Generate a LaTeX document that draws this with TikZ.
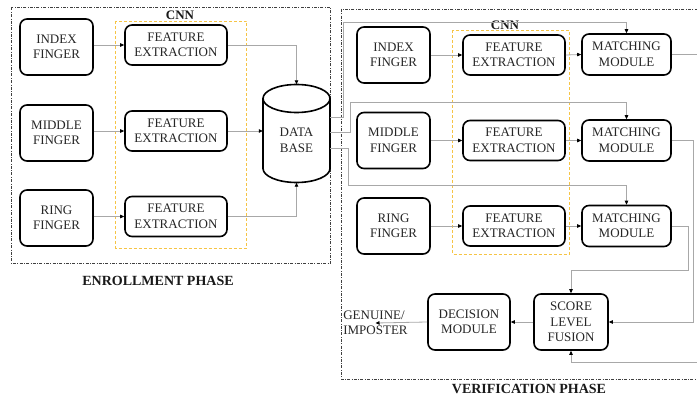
\documentclass[tikz,border=0pt]{standalone}
\usepackage{fontspec}
\setmainfont{Liberation Serif}
\usetikzlibrary{arrows.meta,calc}
\definecolor{cnnyellow}{HTML}{F6C445}
\definecolor{lineg}{HTML}{A8A8A8}
\begin{document}
\begin{tikzpicture}[x=1pt,y=-1pt,
  box/.style={draw=black, line width=1.6pt, rounded corners=7pt, fill=white, align=center, inner sep=0pt, text=black!85, font=\fontsize{13}{15.5}\selectfont},
  finger/.style={box, minimum width=73pt, minimum height=56pt},
  fe/.style={box, minimum width=102pt, minimum height=40pt},
  mm/.style={box, minimum width=89pt, minimum height=41pt},
  big/.style={box, minimum width=#1, minimum height=56pt},
  conn/.style={draw=lineg, line width=0.8pt, -{Triangle[length=4pt,width=3.5pt,color=black]}},
  phase/.style={draw=black!75, line width=0.6pt, dash pattern=on 3pt off 1.5pt on 0.6pt off 1.5pt},
  cnnbox/.style={draw=cnnyellow, line width=0.9pt, dash pattern=on 3pt off 2pt},
  title/.style={font=\bfseries\fontsize{14}{16}\selectfont, text=black!90},
  cnnlabel/.style={font=\bfseries\fontsize{13}{15}\selectfont, text=black!90},
  cyl/.style={draw=black, line width=1.6pt, fill=white},
]
\clip (0,0) rectangle (697,398);
\fill[white] (0,0) rectangle (697,398);

% phase frames and CNN frames
\draw[phase] (11.5,7.5) rectangle (330.5,263.5);
\draw[phase] (341.5,9) rectangle (710,379.5);
\draw[cnnbox] (115.5,21) rectangle (246.5,248);
\draw[cnnbox] (452,30.5) rectangle (569.5,254);

% labels
\node[title] (enrt) at (158,281) {ENROLLMENT PHASE};
\node[title] (vert) at (529,389) {VERIFICATION PHASE};
\node[cnnlabel] (cnn1) at (180,15) {CNN};
\node[cnnlabel] (cnn2) at (505,25) {CNN};

% enrollment
\node[finger] (ei) at (56.5,47) {INDEX\\FINGER};
\node[finger] (em) at (56.5,133) {MIDDLE\\FINGER};
\node[finger] (er) at (56.5,218) {RING\\FINGER};
\node[fe] (ef1) at (176,45) {FEATURE\\EXTRACTION};
\node[fe] (ef2) at (176,131) {FEATURE\\EXTRACTION};
\node[fe] (ef3) at (176,216.5) {FEATURE\\EXTRACTION};

% database cylinder
\draw[cyl] (263,98.5) -- (263,168.5) arc[start angle=180,end angle=0,x radius=33.5,y radius=14] -- (330,98.5);
\draw[cyl] (296.5,98.5) ellipse[x radius=33.5,y radius=14];
\node[align=center, inner sep=0pt, minimum width=67pt, minimum height=84pt, text=black!85, font=\fontsize{13}{15.5}\selectfont] (db) at (296.5,140.5) {DATA\\BASE};
\coordinate (dbtop) at ($(db.north)+(0,-14)$);

% verification
\node[finger] (vi) at (393.5,55) {INDEX\\FINGER};
\node[finger] (vm) at (393.5,140.5) {MIDDLE\\FINGER};
\node[finger] (vr) at (393.5,226) {RING\\FINGER};
\node[fe] (vf1) at (514,55) {FEATURE\\EXTRACTION};
\node[fe] (vf2) at (514,140.5) {FEATURE\\EXTRACTION};
\node[fe] (vf3) at (514,226) {FEATURE\\EXTRACTION};
\node[mm] (mm1) at (626.5,54.5) {MATCHING\\MODULE};
\node[mm] (mm2) at (626.5,140.5) {MATCHING\\MODULE};
\node[mm] (mm3) at (626.5,226) {MATCHING\\MODULE};
\node[big=74pt] (fus) at (571,322) {SCORE\\LEVEL\\FUSION};
\node[big=82pt] (dec) at (469,322) {DECISION\\MODULE};
\node[align=left, inner sep=0pt, text=black!85, font=\fontsize{13}{15}\selectfont] (out) at (375.5,323) {GENUINE/\\IMPOSTER};

% enrollment connectors
\draw[conn] (ei.east |- ef1) -- (ef1.west);
\draw[conn] (em.east |- ef2) -- (ef2.west);
\draw[conn] (er.east |- ef3) -- (ef3.west);
\draw[conn] (ef1.east) -| (dbtop);
\draw[conn] (ef2.east) -- (ef2.east -| db.west);
\draw[conn] (ef3.east) -| (db.south);

% verification connectors
\draw[conn] (vi.east) -- (vf1.west);
\draw[conn] (vm.east) -- (vf2.west);
\draw[conn] (vr.east) -- (vf3.west);
\draw[conn] (vf1.east) -- (mm1.west);
\draw[conn] (vf2.east) -- (mm2.west);
\draw[conn] (vf3.east) -- (mm3.west);
\draw[conn] ($(db.east)+(0,-23.5)$) -| (343,22) -| (mm1.north);
\draw[conn] ($(db.east)+(0,-8.5)$) -| (350,102) -| (mm2.north);
\draw[conn] ($(db.east)+(0,7.5)$) -| (348.5,185) -| (mm3.north);
\draw[conn] (mm1.east) -| (706,362) -| (fus.south);
\draw[conn] (mm2.east) -| (693,322) -- (fus.east);
\draw[conn] (mm3.east) -| (688,270) -| (fus.north);
\draw[conn] (fus.west) -- (dec.east);
\draw[conn] (dec.west) -- (out.center);
\end{tikzpicture}
\end{document}
